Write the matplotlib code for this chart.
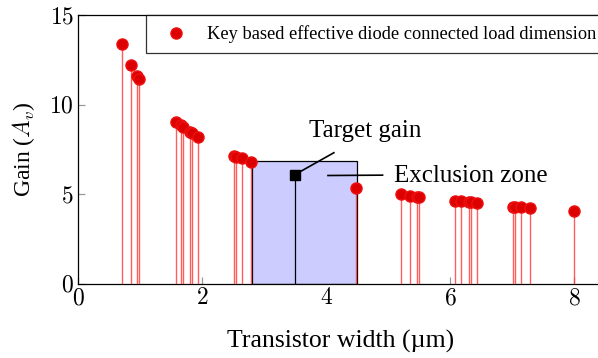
import matplotlib
matplotlib.use("Agg")
import matplotlib.pyplot as plt
from matplotlib.patches import Rectangle

plt.rcParams['font.family'] = ['Liberation Serif', 'DejaVu Serif']
plt.rcParams['mathtext.fontset'] = 'cm'

# widths (um) and gains
width = [0.71, 0.86, 0.95, 0.98,
         1.58, 1.66, 1.69, 1.81, 1.83, 1.93,
         2.51, 2.55, 2.645, 2.79,
         4.49,
         5.21, 5.355, 5.47, 5.49,
         6.08, 6.17, 6.31, 6.33, 6.43,
         7.01, 7.04, 7.14, 7.29,
         8.0]
gain = [13.4, 12.2, 11.6, 11.43,
        9.03, 8.85, 8.75, 8.45, 8.4, 8.18,
        7.16, 7.1, 7.0, 6.79,
        5.33,
        5.0, 4.93, 4.87, 4.84,
        4.63, 4.61, 4.57, 4.55, 4.5,
        4.31, 4.3, 4.28, 4.22,
        4.05]

target_w, target_gain = 3.5, 6.08
zone_w = (2.8, 4.5)
zone_gain = 6.86

fig = plt.figure(figsize=(5.98, 3.58), dpi=100)
ax = fig.add_axes([78 / 598, 1 - 284 / 358, (598 - 78) / 598 + 0.01, (284 - 15) / 358])

ax.add_patch(Rectangle((zone_w[0], 0), zone_w[1] - zone_w[0], zone_gain,
                       facecolor='#ccccff', edgecolor='black', linewidth=0.9, zorder=2))
ax.vlines(width, 0, gain, colors='#ff3333', linewidth=1.0, alpha=0.8, zorder=3)
ax.plot(width, gain, 'o', color='#dd0000', markeredgecolor='#ee1111',
        markersize=8, zorder=4,
        label='Key based effective diode connected load dimension')
ax.vlines([target_w], 0, target_gain, colors='black', linewidth=0.9, zorder=3)
ax.plot([target_w], [target_gain], 's', color='black', markersize=6.5, zorder=5)

# annotation pins
ax.plot([3.58, 4.125], [6.26, 7.32], color='black', lw=1.2, zorder=5)
ax.text(3.72, 8.55, 'Target gain', fontsize=18, ha='left', va='center')
ax.plot([4.03, 4.91], [6.05, 6.07], color='black', lw=1.2, zorder=5)
ax.text(5.1, 6.05, 'Exclusion zone', fontsize=18, ha='left', va='center')

ax.set_xlim(0, 8.48)
ax.set_ylim(0, 15)
ax.set_xticks([0, 2, 4, 6, 8])
ax.set_yticks([0, 5, 10, 15])
ax.set_xticklabels(['$0$', '$2$', '$4$', '$6$', '$8$'], fontsize=17)
ax.set_yticklabels(['$0$', '$5$', '$10$', '$15$'], fontsize=17)
ax.tick_params(direction='in', length=5, color='#999999', width=0.9)
ax.tick_params(axis='x', pad=3)
ax.tick_params(axis='y', pad=3)
for s in ax.spines.values():
    s.set_linewidth(0.9)
ax.spines['right'].set_visible(False)

ax.set_xlabel('Transistor width (µm)', fontsize=18.5, labelpad=15)
ax.set_ylabel('Gain ($A_v$)', fontsize=17, labelpad=9)

leg = ax.legend(loc='upper left', bbox_to_anchor=(1.09, 15),
                bbox_transform=ax.transData, fontsize=13.2,
                frameon=True, fancybox=False, edgecolor='black',
                borderaxespad=0.0, handletextpad=0.6, borderpad=0.55,
                handlelength=2.2)
leg.get_frame().set_linewidth(0.9)

fig.savefig('out.png', dpi=100)
